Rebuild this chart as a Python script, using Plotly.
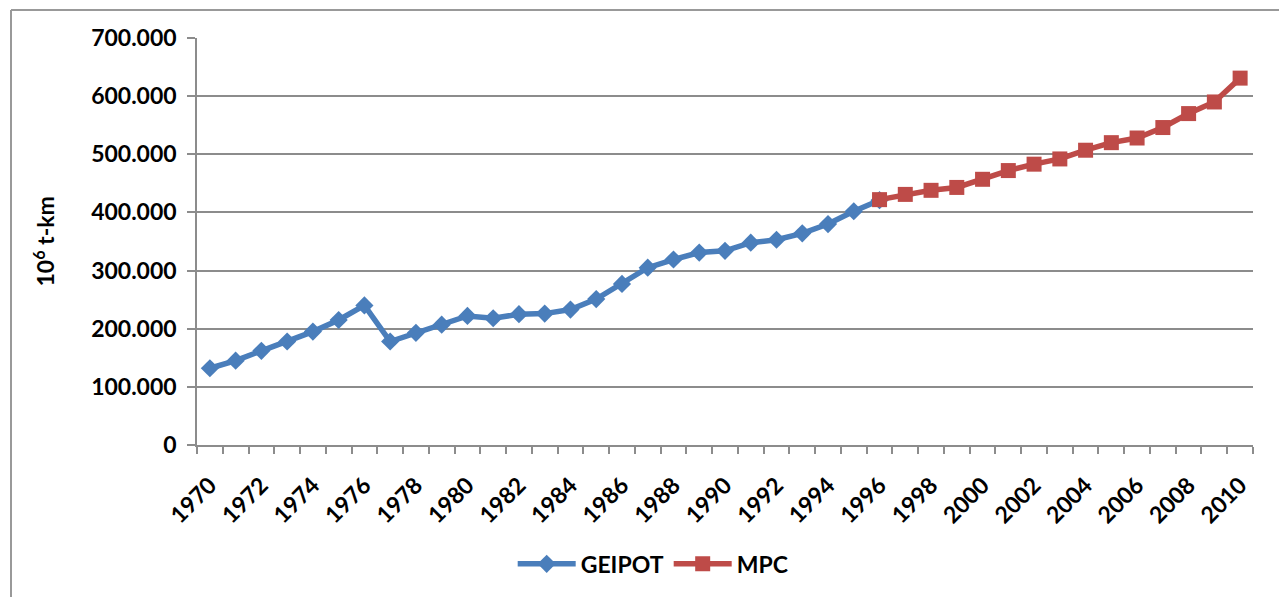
import plotly.graph_objects as go

# Freight transport output, million tonne-km
geipot_years = list(range(1970, 1997))
geipot_values = [
    132000, 145000, 162000, 178000, 195000, 215000, 240000, 178000, 193000,
    207000, 222000, 218000, 225000, 226000, 233000, 251000, 277000, 305000,
    319000, 331000, 334000, 348000, 353000, 364000, 380000, 402000, 421000,
]

mpc_years = list(range(1996, 2011))
mpc_values = [
    422000, 431000, 438000, 443000, 457000, 472000, 483000, 492000, 507000,
    520000, 528000, 546000, 570000, 590000, 631000,
]

all_years = list(range(1970, 2011))
label_years = all_years[::2]
y_ticks = [0, 100000, 200000, 300000, 400000, 500000, 600000, 700000]

FONT = "Lato"
FSIZE = 23
GRID = "#8c8c8c"
BLUE = "#4A7EBB"
RED = "#BE4B48"

fig = go.Figure()
fig.add_trace(go.Scatter(
    x=geipot_years, y=geipot_values, name="GEIPOT", mode="lines+markers",
    line=dict(color=BLUE, width=5.5),
    marker=dict(symbol="diamond", size=14, color=BLUE),
))
fig.add_trace(go.Scatter(
    x=mpc_years, y=mpc_values, name="MPC", mode="lines+markers",
    line=dict(color=RED, width=5.5),
    marker=dict(symbol="square", size=15, color=RED),
))

fig.update_layout(
    width=1279, height=597,
    margin=dict(l=197, r=26, t=38, b=152),
    paper_bgcolor="white", plot_bgcolor="white",
    separators=",.",
    font=dict(family=FONT, size=FSIZE, color="black", weight="bold"),
    showlegend=True,
    legend=dict(
        orientation="h", x=0.432, xanchor="center", y=-0.292, yanchor="middle",
        itemwidth=58, font=dict(family=FONT, size=FSIZE, weight="bold"),
        bgcolor="rgba(0,0,0,0)",
    ),
    xaxis=dict(
        range=[all_years[0] - 0.5, all_years[-1] + 0.5],
        tickmode="array", tickvals=label_years,
        ticktext=[str(y) for y in label_years],
        tickangle=-45, ticks="", showgrid=False, zeroline=False,
        showline=True, linecolor=GRID, linewidth=1.5,
        tickfont=dict(family=FONT, size=FSIZE, weight="bold"),
        minor=dict(tick0=all_years[0] - 0.5, dtick=1, ticks="outside",
                   ticklen=7, tickcolor=GRID, tickwidth=1.5, showgrid=False),
        ticklabelstandoff=16,
    ),
    yaxis=dict(
        range=[0, 700000], tickmode="array", tickvals=y_ticks,
        tickformat=",d", showgrid=True, gridcolor=GRID, gridwidth=1.5,
        zeroline=False, showline=True, linecolor=GRID, linewidth=1.5,
        ticks="outside", ticklen=8, tickcolor=GRID, tickwidth=1.5,
        tickfont=dict(family=FONT, size=FSIZE, weight="bold"),
        ticklabelstandoff=6,
    ),
)

# Axis title for the value axis
fig.add_annotation(
    text="10<sup>6</sup> t-km", xref="paper", yref="paper",
    x=(44 - 197) / 1056, y=0.5, xanchor="center", yanchor="middle",
    textangle=-90, showarrow=False,
    font=dict(family=FONT, size=FSIZE, weight="bold", color="black"),
)

# Chart-area frame (top and left edges)
fig.add_shape(type="line", xref="paper", yref="paper",
              x0=(11 - 197) / 1056, x1=(1290 - 197) / 1056,
              y0=(445 - 10) / 407, y1=(445 - 10) / 407,
              line=dict(color="#999999", width=2))
fig.add_shape(type="line", xref="paper", yref="paper",
              x0=(11 - 197) / 1056, x1=(11 - 197) / 1056,
              y0=(445 - 10) / 407, y1=(445 - 610) / 407,
              line=dict(color="#999999", width=2))

fig.write_html("out.html")
